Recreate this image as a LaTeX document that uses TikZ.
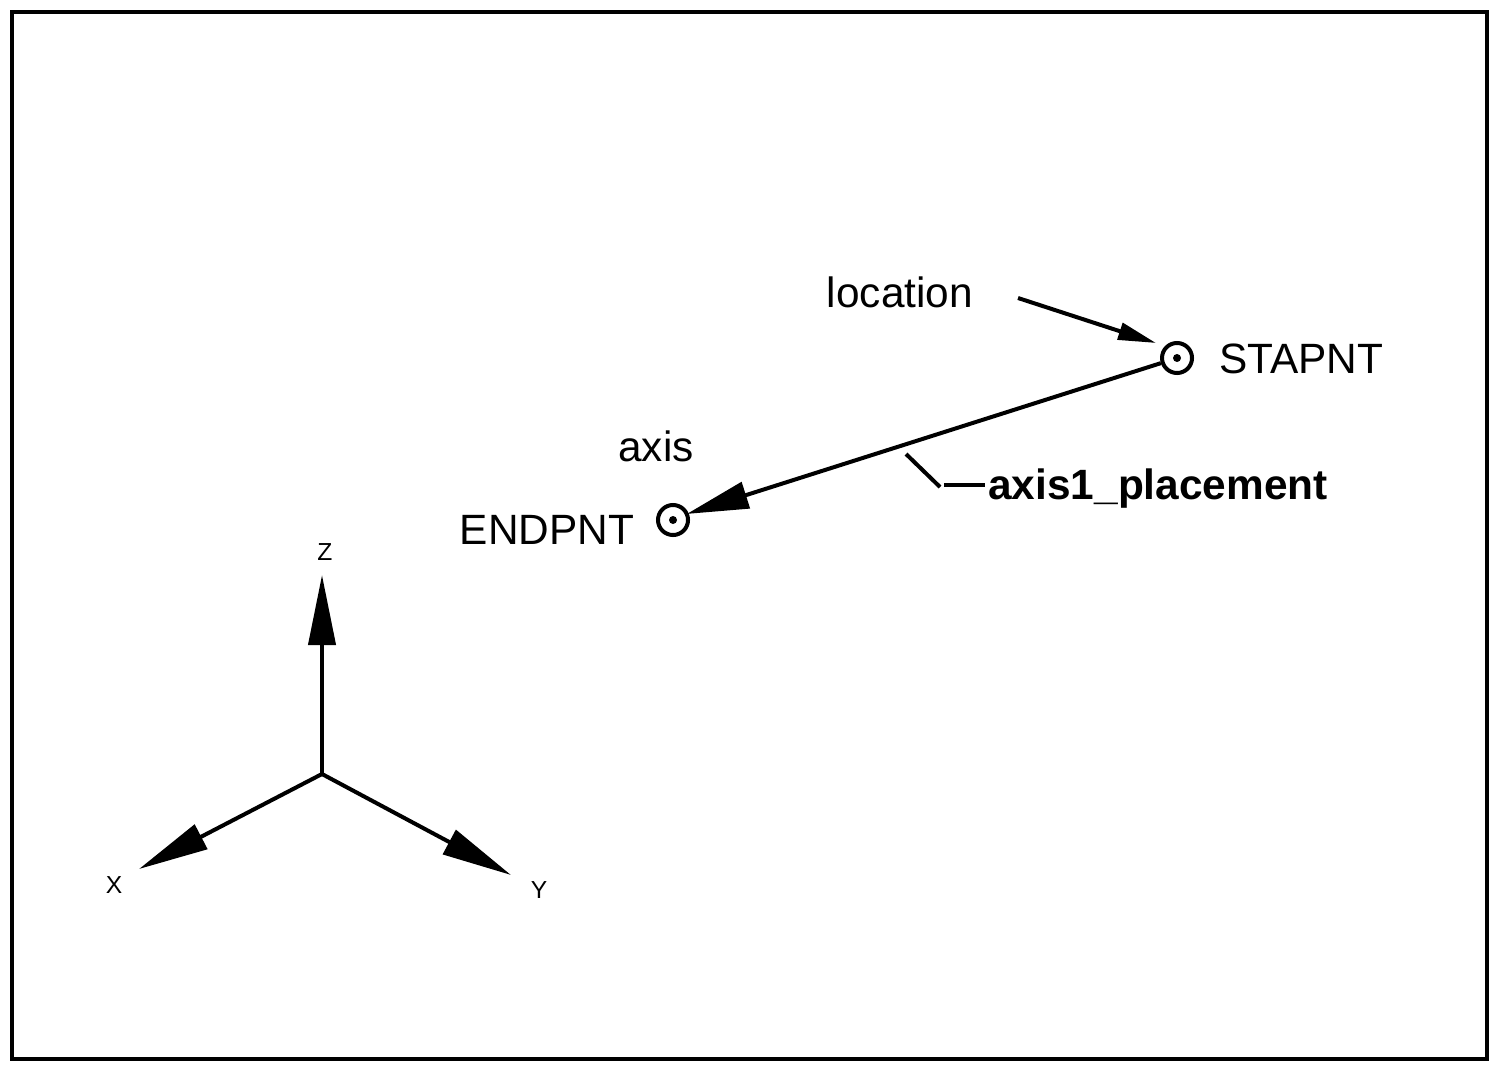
\documentclass[tikz,border=0pt]{standalone}
\usepackage{fontspec}
\setmainfont{Liberation Sans}
\usetikzlibrary{arrows.meta}

\begin{document}
\begin{tikzpicture}[
        x=0.01cm, y=-0.01cm,
        font=\fontsize{12.05pt}{14pt}\selectfont,
        line width=0.04cm,
        bigtip/.style={-{Triangle[length=0.7cm,width=0.27cm]}},
        smalltip/.style={-{Triangle[length=0.38cm,width=0.17cm]}},
        pnt/.style={circle, draw, fill=white, inner sep=0pt, minimum size=0.3cm},
        pntdot/.style={circle, fill=black, inner sep=0pt, minimum size=0.08cm},
        lab/.style={inner sep=0pt},
        axislab/.style={inner sep=0pt, font=\fontsize{7pt}{8pt}\selectfont}
      ]
      \useasboundingbox (0,0) rectangle (1498,1070);
      \draw (12,12) rectangle (1487,1059);

      \node[pnt] (stapnt) at (1177,358) {};
      \node[pnt] (endpnt) at (673,520) {};
      \node[pntdot] (stadot) at (1177,358) {};
      \node[pntdot] (enddot) at (673,520) {};

      \node[lab] (stalabel) at (1301,359) {STAPNT};
      \node[lab] (endlabel) at (547,530) {ENDPNT};
      \node[lab] (location) at (900,292) {location};
      \node[lab] (axislabel) at (656,446) {axis};
      \node[lab, font=\fontsize{12.05pt}{14pt}\selectfont\bfseries] (placement) at (1158,489) {axis1\_placement};

      \coordinate (locstart) at (1018,298);
      \coordinate (loctip) at (1156,343);
      \draw[smalltip] (locstart) -- (loctip);
      \draw[-{Triangle[length=0.62cm,width=0.27cm]}, shorten >=-0.02cm] (stapnt) -- (endpnt.23);

      \coordinate (leadera) at (906,454);
      \coordinate (leaderb) at (940,487);
      \coordinate (leaderc) at (944,485);
      \draw (leadera) -- (leaderb);
      \draw[shorten >=0.04cm] (leaderc) -- ([xshift=0.03cm]placement.west |- leaderc);

      % axes
      \coordinate (origin) at (322,774);
      \coordinate (ztip) at (322,575);
      \coordinate (xtip) at (139,869);
      \coordinate (ytip) at (511,875);
      \draw[bigtip] (origin) -- (ztip);
      \draw[bigtip] (origin) -- (xtip);
      \draw[bigtip] (origin) -- (ytip);
      \node[axislab] (zlabel) at (325,552) {Z};
      \node[axislab] (xlabel) at (114,885) {X};
      \node[axislab] (ylabel) at (539,890) {Y};
    \end{tikzpicture}
\end{document}
